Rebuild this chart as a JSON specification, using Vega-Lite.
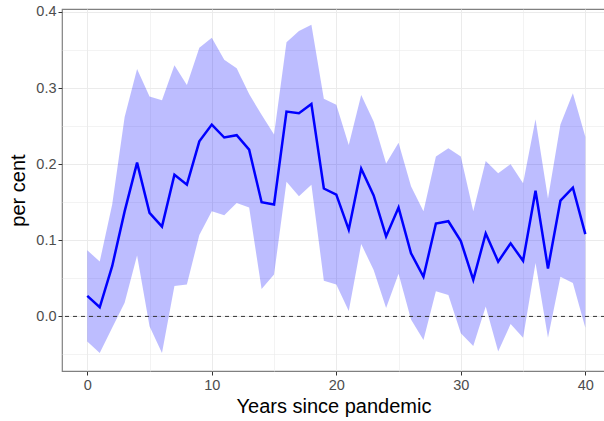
{
  "$schema": "https://vega.github.io/schema/vega-lite/v6.json",
  "autosize": {"type": "none"},
  "padding": {"left": 62, "top": 9, "right": 0, "bottom": 50},
  "width": 543,
  "height": 362,
  "background": "white",
  "config": {
    "font": "Liberation Sans",
    "view": {"stroke": "#808080", "strokeWidth": 1.2},
    "axis": {
      "labelFont": "Liberation Sans",
      "titleFont": "Liberation Sans",
      "labelFontSize": 14.5,
      "labelColor": "#4d4d4d",
      "titleFontSize": 20,
      "titleFontWeight": "normal",
      "titleColor": "#000000",
      "gridColor": "#ebebeb",
      "domain": false,
      "tickColor": "#333333",
      "tickSize": 4
    }
  },
  "data": {
    "values": [
      {"year": 0, "mean": 0.027, "lower": -0.033, "upper": 0.087},
      {"year": 1, "mean": 0.012, "lower": -0.048, "upper": 0.072},
      {"year": 2, "mean": 0.066, "lower": -0.015, "upper": 0.147},
      {"year": 3, "mean": 0.138, "lower": 0.018, "upper": 0.262},
      {"year": 4, "mean": 0.202, "lower": 0.080, "upper": 0.325},
      {"year": 5, "mean": 0.136, "lower": -0.013, "upper": 0.289},
      {"year": 6, "mean": 0.118, "lower": -0.048, "upper": 0.284},
      {"year": 7, "mean": 0.186, "lower": 0.040, "upper": 0.330},
      {"year": 8, "mean": 0.173, "lower": 0.042, "upper": 0.304},
      {"year": 9, "mean": 0.230, "lower": 0.107, "upper": 0.353},
      {"year": 10, "mean": 0.252, "lower": 0.138, "upper": 0.366},
      {"year": 11, "mean": 0.235, "lower": 0.133, "upper": 0.337},
      {"year": 12, "mean": 0.238, "lower": 0.149, "upper": 0.326},
      {"year": 13, "mean": 0.219, "lower": 0.143, "upper": 0.292},
      {"year": 14, "mean": 0.150, "lower": 0.036, "upper": 0.265},
      {"year": 15, "mean": 0.147, "lower": 0.055, "upper": 0.239},
      {"year": 16, "mean": 0.269, "lower": 0.177, "upper": 0.360},
      {"year": 17, "mean": 0.267, "lower": 0.158, "upper": 0.375},
      {"year": 18, "mean": 0.279, "lower": 0.173, "upper": 0.383},
      {"year": 19, "mean": 0.168, "lower": 0.047, "upper": 0.286},
      {"year": 20, "mean": 0.160, "lower": 0.042, "upper": 0.278},
      {"year": 21, "mean": 0.114, "lower": 0.007, "upper": 0.225},
      {"year": 22, "mean": 0.194, "lower": 0.095, "upper": 0.291},
      {"year": 23, "mean": 0.159, "lower": 0.061, "upper": 0.256},
      {"year": 24, "mean": 0.105, "lower": 0.011, "upper": 0.201},
      {"year": 25, "mean": 0.143, "lower": 0.056, "upper": 0.228},
      {"year": 26, "mean": 0.083, "lower": -0.004, "upper": 0.171},
      {"year": 27, "mean": 0.052, "lower": -0.031, "upper": 0.138},
      {"year": 28, "mean": 0.122, "lower": 0.033, "upper": 0.210},
      {"year": 29, "mean": 0.125, "lower": 0.028, "upper": 0.221},
      {"year": 30, "mean": 0.099, "lower": -0.022, "upper": 0.210},
      {"year": 31, "mean": 0.048, "lower": -0.039, "upper": 0.138},
      {"year": 32, "mean": 0.109, "lower": 0.013, "upper": 0.204},
      {"year": 33, "mean": 0.072, "lower": -0.046, "upper": 0.188},
      {"year": 34, "mean": 0.096, "lower": -0.010, "upper": 0.200},
      {"year": 35, "mean": 0.073, "lower": -0.028, "upper": 0.175},
      {"year": 36, "mean": 0.165, "lower": 0.070, "upper": 0.259},
      {"year": 37, "mean": 0.063, "lower": -0.028, "upper": 0.155},
      {"year": 38, "mean": 0.152, "lower": 0.052, "upper": 0.252},
      {"year": 39, "mean": 0.169, "lower": 0.044, "upper": 0.293},
      {"year": 40, "mean": 0.108, "lower": -0.015, "upper": 0.236}
    ]
  },
  "encoding": {
    "x": {
      "field": "year",
      "type": "quantitative",
      "scale": {"domain": [-2.03, 41.58], "nice": false, "zero": false},
      "axis": {
        "title": "Years since pandemic",
        "values": [0, 5, 10, 15, 20, 25, 30, 35, 40],
        "labelExpr": "datum.value % 10 == 0 ? datum.label : ''",
        "tickOpacity": {"condition": {"test": "datum.value % 10 == 0", "value": 1}, "value": 0},
        "gridWidth": {"condition": {"test": "datum.value % 10 == 0", "value": 1}, "value": 0.6},
        "labelPadding": 3,
        "titlePadding": 5
      }
    }
  },
  "layer": [
    {
      "mark": {"type": "area", "color": "blue", "opacity": 0.26},
      "encoding": {
        "y": {
          "field": "lower",
          "type": "quantitative",
          "scale": {"domain": [-0.0717, 0.4038], "nice": false, "zero": false},
          "axis": {
            "title": "per cent",
            "values": [-0.05, 0, 0.05, 0.1, 0.15, 0.2, 0.25, 0.3, 0.35, 0.4],
            "format": ".1f",
            "labelExpr": "abs(datum.value * 10 - round(datum.value * 10)) < 0.001 ? datum.label : ''",
            "tickOpacity": {"condition": {"test": "abs(datum.value * 10 - round(datum.value * 10)) < 0.001", "value": 1}, "value": 0},
            "gridWidth": {"condition": {"test": "abs(datum.value * 10 - round(datum.value * 10)) < 0.001", "value": 1}, "value": 0.6},
            "labelPadding": 2,
            "titlePadding": 7
          }
        },
        "y2": {"field": "upper"}
      }
    },
    {
      "data": {"values": [{"zero": 0}]},
      "mark": {"type": "rule", "color": "#333333", "strokeDash": [4, 4], "strokeWidth": 1},
      "encoding": {
        "x": null,
        "y": {"field": "zero", "type": "quantitative"}
      }
    },
    {
      "mark": {"type": "line", "color": "blue", "strokeWidth": 2.5},
      "encoding": {
        "y": {"field": "mean", "type": "quantitative"}
      }
    }
  ]
}
